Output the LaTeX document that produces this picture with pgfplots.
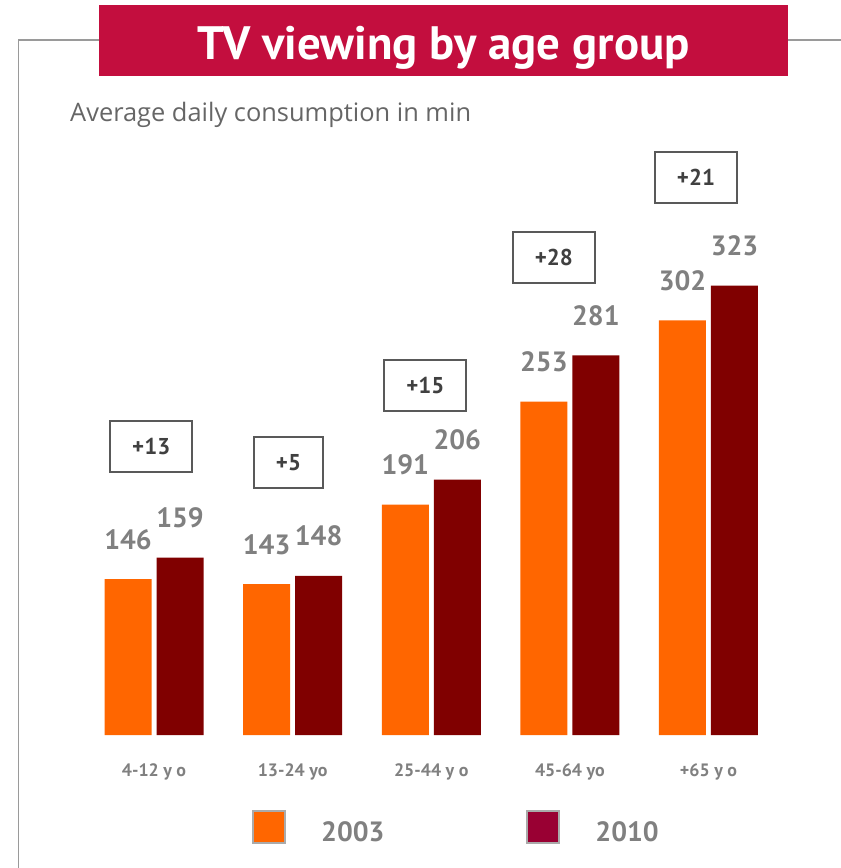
\documentclass[border=0pt]{standalone}
\usepackage{pgfplots}
\pgfplotsset{compat=1.18}
\usepackage{fontspec}
\setmainfont{PT Sans}
\newfontfamily\subfont{Open Sans}

\definecolor{c2003}{HTML}{FF6600}
\definecolor{c2010}{HTML}{800000}
\definecolor{leg2010}{HTML}{990033}
\definecolor{titlered}{HTML}{C30E3E}
\definecolor{labelgray}{HTML}{808080}
\definecolor{boxtext}{HTML}{404040}
\definecolor{boxline}{HTML}{595959}
\definecolor{subgray}{HTML}{666666}
\definecolor{framegray}{HTML}{9A9A9A}
\definecolor{lgborder}{HTML}{AAAAAA}

\begin{document}
\begin{tikzpicture}
\useasboundingbox (0bp,0bp) rectangle (841bp,868bp);
% frame and heading
\draw[framegray, line width=1.5bp] (18.5bp,0bp) -- (18.5bp,828bp) -- (99bp,828bp);
\draw[framegray, line width=1.5bp] (788bp,828bp) -- (841bp,828bp);
\fill[titlered] (99bp,791.5bp) rectangle (788bp,863bp);
\node[anchor=base, inner sep=0pt, text=white, font=\fontsize{47}{50}\selectfont\bfseries]
  at (443.5bp,808bp) {TV viewing by age group};
\node[anchor=base west, inner sep=0pt, text=subgray, font=\fontsize{25.5}{28}\subfont]
  at (70bp,746.3bp) {Average daily consumption in min};

\begin{axis}[
  at={(84.7bp,133bp)}, anchor=south west,
  scale only axis, width=693.1bp, height=497.4bp,
  xmin=-0.5, xmax=4.5, ymin=52, ymax=352,
  clip=false,
  axis line style={draw=none},
  ytick=\empty,
  xtick={0,...,4},
  xticklabels={4-12 y o, 13-24 yo, 25-44 y o, 45-64 yo, +65 y o},
  major tick length=0pt,
  xticklabel style={anchor=north, inner sep=0pt, yshift=-28bp, text=labelgray,
    font=\fontsize{18}{20}\selectfont\bfseries},
  ybar, bar width=47bp,
  nodes near coords,
  nodes near coords style={anchor=base, inner sep=0pt, yshift=30bp, text=labelgray,
    font=\fontsize{28}{30}\selectfont\bfseries},
  /pgf/number format/assume math mode=true,
  legend style={at={(0.2414,-0.1508)}, anchor=north west, draw=none, fill=none,
    inner sep=0pt, font=\fontsize{28}{30}\selectfont\bfseries, text=labelgray,
    nodes={inner sep=0pt},
    /tikz/every odd column/.style={column sep=35bp},
    /tikz/every even column/.style={column sep=142bp}},
  legend columns=2,
  legend cell align=left,
]
\addplot[fill=c2003, draw=none, bar shift=-26bp, forget plot]
  coordinates {(0,146) (1,143) (2,191) (3,253) (4,302)};
\addplot[fill=c2010, draw=none, bar shift=26bp, forget plot]
  coordinates {(0,159) (1,148) (2,206) (3,281) (4,323)};

\addlegendimage{legend image code/.code={
  \draw[draw=lgborder, line width=2bp, fill=c2003] (0bp,-6bp) rectangle (32bp,26bp);}}
\addlegendentry{\raisebox{10bp}{2003}}
\addlegendimage{legend image code/.code={
  \draw[draw=lgborder, line width=2bp, fill=leg2010] (0bp,-6bp) rectangle (32bp,26bp);}}
\addlegendentry{\raisebox{10bp}{2010}}

% change boxes
\tikzset{chg/.style={draw=boxline, line width=2bp, inner xsep=22bp, minimum height=51bp,
  text=boxtext, font=\fontsize{23}{25}\selectfont\bfseries}}
\node[chg] at (axis cs:-0.02,226) {+13};
\node[chg] at (axis cs:0.97,216.4) {+5};
\node[chg] at (axis cs:1.957,263) {+15};
\node[chg] at (axis cs:2.885,340) {+28};
\node[chg] at (axis cs:3.91,388.2) {+21};
\end{axis}
\end{tikzpicture}
\end{document}
